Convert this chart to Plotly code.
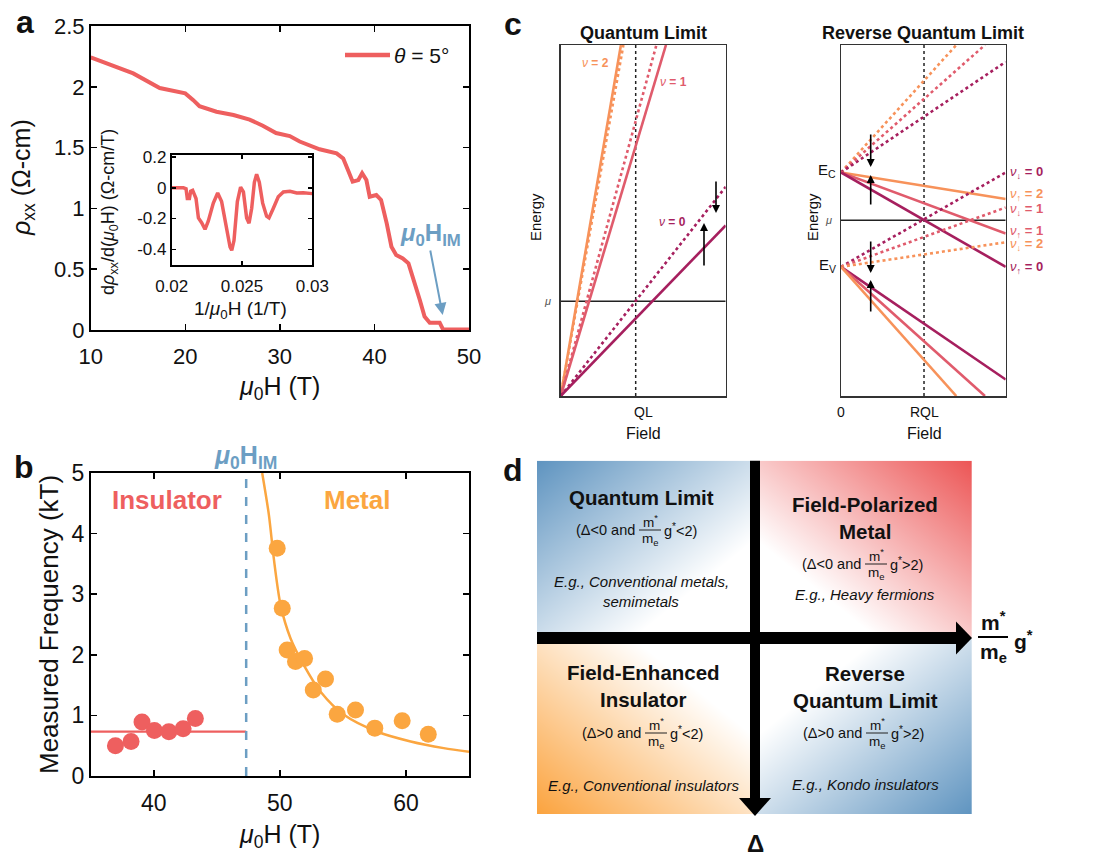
import plotly.graph_objects as go

W, H = 1100, 864
FONT = "Liberation Sans, Arial, Helvetica, sans-serif"
INK = "#111111"

# ---------------- data: panel a (rho_xx vs field) ----------------
a_field = [10, 14.5, 17.3, 19.4, 20.0, 20.85, 21.5, 23.3, 25.1, 26.8, 28.2, 29.6, 31.05, 32.1,
           34.2, 36.0, 36.7, 37.2, 37.7, 38.3, 38.7, 39.15, 39.5, 40.2, 40.7, 41.3, 41.8, 42.3,
           43.0, 43.6, 44.3, 44.8, 45.3, 45.85, 46.9, 47.25, 50.0]
a_rho = [2.242, 2.11, 1.99, 1.95, 1.946, 1.89, 1.84, 1.795, 1.768, 1.73, 1.68, 1.62, 1.595, 1.55,
         1.486, 1.453, 1.41, 1.316, 1.22, 1.233, 1.29, 1.233, 1.096, 1.11, 1.07, 0.877, 0.685, 0.617,
         0.589, 0.548, 0.384, 0.247, 0.11, 0.06, 0.06, 0.005, 0.005]
a_xticks = [10, 20, 30, 40, 50]
a_yticks = [0, 0.5, 1, 1.5, 2, 2.5]
a_yticktext = ["0", "0.5", "1", "1.5", "2", "2.5"]

# inset: derivative vs inverse field
inset_invB = [0.02, 0.02083, 0.02102, 0.02111, 0.02126, 0.02135, 0.02149, 0.02173, 0.0219, 0.02213,
              0.02237, 0.0226, 0.02296, 0.02327, 0.02355, 0.02386, 0.02415, 0.02427, 0.02443, 0.02467,
              0.0249, 0.0251, 0.02533, 0.0255, 0.02569, 0.02588, 0.02604, 0.02623, 0.02647, 0.02675,
              0.02692, 0.02723, 0.02758, 0.02794, 0.02841, 0.02889, 0.02936, 0.03]
inset_drho = [0, 0, -0.006, -0.07, -0.07, -0.023, -0.017, -0.07, -0.196, -0.227,
              -0.27, -0.217, -0.10, -0.034, -0.09, -0.238, -0.385, -0.406, -0.343, -0.09,
              0.004, -0.027, -0.196, -0.23, -0.133, 0.036, 0.088, 0.036, -0.10, -0.185,
              -0.196, -0.133, -0.059, -0.027, -0.023, -0.034, -0.032, -0.038]
inset_xticks = [0.02, 0.025, 0.03]
inset_xticktext = ["0.02", "0.025", "0.03"]
inset_yticks = [0.2, 0, -0.2, -0.4]
inset_yticktext = ["0.2", "0", "-0.2", "-0.4"]

# ---------------- data: panel b (frequency vs field) ----------------
ins_field = [36.96, 38.2, 39.07, 40.05, 41.2, 42.33, 43.3]
ins_freq = [0.50, 0.57, 0.89, 0.75, 0.73, 0.78, 0.95]
ins_level = 0.732
h_im = 47.33
met_field = [49.79, 50.19, 50.58, 51.24, 51.96, 52.65, 53.62, 54.55, 56.0, 57.53, 59.7, 61.77]
met_freq = [3.76, 2.77, 2.08, 1.89, 1.94, 1.42, 1.60, 1.02, 1.09, 0.79, 0.91, 0.69]
fit_field = [48.6, 49.13, 49.52, 50.06, 50.85, 51.9, 53.23, 55.08, 57.73, 60.37, 63.0, 65.0]
fit_freq = [5.0, 4.31, 3.59, 2.82, 2.27, 1.83, 1.39, 1.01, 0.73, 0.57, 0.46, 0.40]
b_xticks = [40, 50, 60]
b_yticks = [0, 1, 2, 3, 4, 5]

# ---------------- data: panel c (schematic Landau levels) ----------------
ql_level = ["2", "2", "1", "1", "0", "0"]
ql_spin = ["down", "up", "down", "up", "down", "up"]
ql_end_x = [0.38, 0.365, 0.58, 0.638, 1.0, 1.0]
ql_end_y = [1.0, 1.0, 1.0, 1.0, 0.596, 0.486]
ql_field = 0.4545
ql_mu = 0.27

rql_level = ["2", "1", "0", "2", "1", "0", "0", "1", "2", "0", "1", "2"]
rql_spin = ["down"] * 3 + ["up"] * 3 + ["down"] * 3 + ["up"] * 3
rql_start_y = [0.637] * 6 + [0.368] * 6
rql_end_x = [0.70, 0.874, 1.0, 1.0, 1.0, 1.0, 1.0, 1.0, 1.0, 1.0, 0.874, 0.70]
rql_end_y = [1.0, 1.0, 0.952, 0.561, 0.463, 0.368, 0.637, 0.537, 0.438, 0.047, 0.0, 0.0]
rql_field = 0.504
rql_mu = 0.501

# ---------------- styles ----------------
RED = "#EE5F5F"
ORANGE = "#FBA640"
BLUE = "#6C9EC3"
C_COL = {"2": "#F7925A", "1": "#E05B6C", "0": "#A61F5E"}
D_BLUE = "#5F94C0"
D_RED = "#EC5555"
D_ORANGE = "#FBA33E"


def X(px):
    return px / W


def Y(py):
    return 1 - py / H


annotations = []
shapes = []


def txt(px, py, text, size, color=INK, xanchor="center", yanchor="middle", angle=0):
    annotations.append(dict(x=X(px), y=Y(py), xref="paper", yref="paper", text=text,
                            showarrow=False, xanchor=xanchor, yanchor=yanchor, textangle=angle,
                            font=dict(family=FONT, size=size, color=color)))


def arrow(hx, hy, tx, ty, color="black", width=1.5, head=2, size=1.0):
    annotations.append(dict(x=X(hx), y=Y(hy), xref="paper", yref="paper", text="",
                            showarrow=True, ax=tx - hx, ay=ty - hy, axref="pixel", ayref="pixel",
                            arrowhead=head, arrowsize=size, arrowwidth=width, arrowcolor=color))


def pline(x0, y0, x1, y1, color="black", width=1.0):
    shapes.append(dict(type="line", xref="paper", yref="paper", x0=X(x0), y0=Y(y0),
                       x1=X(x1), y1=Y(y1), line=dict(color=color, width=width)))


fig = go.Figure()

# axis domains (pixel boxes)
boxes = {
    "a": (90.7, 469, 26, 330),
    "ins": (171.7, 312.3, 155, 265),
    "b": (90.7, 469, 473, 776),
    "cl": (560.7, 725.7, 45, 396),
    "cr": (841, 1005.7, 45, 396),
    "d1": (537, 755, 460.7, 638),
    "d2": (755, 971.7, 460.7, 638),
    "d3": (537, 755, 638, 814),
    "d4": (755, 971.7, 638, 814),
}
order = ["a", "ins", "b", "cl", "cr", "d1", "d2", "d3", "d4"]
layout_axes = {}
for i, k in enumerate(order):
    x0, x1, y0, y1 = boxes[k]
    n = "" if i == 0 else str(i + 1)
    layout_axes["xaxis" + n] = dict(domain=[X(x0), X(x1)], anchor="y" + n, automargin=False)
    layout_axes["yaxis" + n] = dict(domain=[Y(y1), Y(y0)], anchor="x" + n, automargin=False)


def sci_axis(rng, tickvals, ticktext, size):
    return dict(range=rng, tickvals=tickvals, ticktext=ticktext, ticks="inside", ticklen=6,
                tickwidth=1.5, tickcolor="black", showline=True, linecolor="black", linewidth=1.8,
                mirror="ticks", showgrid=False, zeroline=False,
                tickfont=dict(family=FONT, size=size, color=INK))


# ---- panel a ----
layout_axes["xaxis"].update(sci_axis([10, 50], a_xticks, [str(v) for v in a_xticks], 22))
layout_axes["yaxis"].update(sci_axis([0, 2.5], a_yticks, a_yticktext, 22))
layout_axes["xaxis"]["ticklabelstandoff"] = 6
fig.add_trace(go.Scatter(x=a_field, y=a_rho, mode="lines", line=dict(color=RED, width=4),
                         xaxis="x", yaxis="y", hoverinfo="skip"))
# inset
layout_axes["xaxis2"].update(sci_axis([0.02, 0.03], inset_xticks, inset_xticktext, 17))
layout_axes["yaxis2"].update(sci_axis([-0.502, 0.213], inset_yticks, inset_yticktext, 17))
layout_axes["xaxis2"]["ticklabelstandoff"] = 5
layout_axes["xaxis2"]["ticklen"] = 4
layout_axes["yaxis2"]["ticklen"] = 4
fig.add_trace(go.Scatter(x=inset_invB, y=inset_drho, mode="lines", line=dict(color=RED, width=3.5),
                         xaxis="x2", yaxis="y2", hoverinfo="skip"))

# ---- panel b ----
layout_axes["xaxis3"].update(sci_axis([35, 65], b_xticks, [str(v) for v in b_xticks], 23))
layout_axes["yaxis3"].update(sci_axis([0, 5], b_yticks, [str(v) for v in b_yticks], 23))
layout_axes["xaxis3"]["ticklabelstandoff"] = 6
fig.add_trace(go.Scatter(x=[35, h_im], y=[ins_level, ins_level], mode="lines",
                         line=dict(color=RED, width=2.2), xaxis="x3", yaxis="y3", hoverinfo="skip"))
fig.add_trace(go.Scatter(x=[h_im, h_im], y=[0, 5], mode="lines",
                         line=dict(color=BLUE, width=2.5, dash="dash"), xaxis="x3", yaxis="y3",
                         hoverinfo="skip"))
fig.add_trace(go.Scatter(x=fit_field, y=fit_freq, mode="lines", line=dict(color=ORANGE, width=2.5,
                         shape="spline", smoothing=0.8), xaxis="x3", yaxis="y3", hoverinfo="skip"))
fig.add_trace(go.Scatter(x=ins_field, y=ins_freq, mode="markers",
                         marker=dict(color=RED, size=17, line=dict(width=0)),
                         xaxis="x3", yaxis="y3", hoverinfo="skip"))
fig.add_trace(go.Scatter(x=met_field, y=met_freq, mode="markers",
                         marker=dict(color=ORANGE, size=17, line=dict(width=0)),
                         xaxis="x3", yaxis="y3", hoverinfo="skip"))

# ---- panel c ----
for ax in ["xaxis4", "yaxis4", "xaxis5", "yaxis5"]:
    layout_axes[ax].update(dict(range=[0, 1], showline=True, mirror=True, linecolor="#333333",
                                linewidth=1.5, ticks="", showticklabels=False, showgrid=False,
                                zeroline=False))
# left: quantum limit
fig.add_trace(go.Scatter(x=[ql_field, ql_field], y=[0, 1], mode="lines",
                         line=dict(color="#222222", width=1.5, dash="dot"),
                         xaxis="x4", yaxis="y4", hoverinfo="skip"))
fig.add_trace(go.Scatter(x=[0, 1], y=[ql_mu, ql_mu], mode="lines",
                         line=dict(color="#222222", width=1.5), xaxis="x4", yaxis="y4",
                         hoverinfo="skip"))
for lv, sp, ex, ey in zip(ql_level, ql_spin, ql_end_x, ql_end_y):
    fig.add_trace(go.Scatter(x=[0, ex], y=[0, ey], mode="lines",
                             line=dict(color=C_COL[lv], width=2.6,
                                       dash="dot" if sp == "down" else "solid"),
                             xaxis="x4", yaxis="y4", hoverinfo="skip"))
# right: reverse quantum limit
fig.add_trace(go.Scatter(x=[rql_field, rql_field], y=[0, 1], mode="lines",
                         line=dict(color="#222222", width=1.5, dash="dot"),
                         xaxis="x5", yaxis="y5", hoverinfo="skip"))
fig.add_trace(go.Scatter(x=[0, 1], y=[rql_mu, rql_mu], mode="lines",
                         line=dict(color="#222222", width=1.5), xaxis="x5", yaxis="y5",
                         hoverinfo="skip"))
for lv, sp, sy, ex, ey in zip(rql_level, rql_spin, rql_start_y, rql_end_x, rql_end_y):
    fig.add_trace(go.Scatter(x=[0, ex], y=[sy, ey], mode="lines",
                             line=dict(color=C_COL[lv], width=2.6,
                                       dash="dot" if sp == "down" else "solid"),
                             xaxis="x5", yaxis="y5", hoverinfo="skip"))

# ---- panel d: gradient quadrants ----
grad = {
    "d1": ([[0.5, 0.0], [1.0, 0.5]], D_BLUE),
    "d2": ([[0.0, 0.5], [0.5, 1.0]], D_RED),
    "d3": ([[1.0, 0.5], [0.5, 0.0]], D_ORANGE),
    "d4": ([[0.5, 1.0], [0.0, 0.5]], D_BLUE),
}
for i, k in enumerate(order):
    if not k.startswith("d"):
        continue
    n = str(i + 1)
    layout_axes["xaxis" + n].update(dict(range=[0, 1], visible=False, fixedrange=True))
    layout_axes["yaxis" + n].update(dict(range=[0, 1], visible=False, fixedrange=True))
    z, col = grad[k]
    fig.add_trace(go.Heatmap(x=[0, 1], y=[0, 1], z=z, zmin=0, zmax=1, zsmooth="best",
                             colorscale=[[0, "#ffffff"], [0.28, "#ffffff"], [1, col]],
                             showscale=False, hoverinfo="skip", xaxis="x" + n, yaxis="y" + n))

# ---------------- annotations ----------------
# panel labels
for lab, px, py in [("a", 25, 22), ("b", 24, 467), ("c", 513, 24), ("d", 513, 470)]:
    txt(px, py, "<b>%s</b>" % lab, 32)

# panel a texts
txt(279, 388, "<i>μ</i><sub>0</sub>H (T)", 25)
txt(23, 178, "<i>ρ</i><sub>xx</sub> (Ω-cm)", 25, angle=-90)
txt(110, 212, "d<i>ρ</i><sub>xx</sub>/d(<i>μ</i><sub>0</sub>H) (Ω-cm/T)", 18, angle=-90)
txt(240, 310, "1/<i>μ</i><sub>0</sub>H (1/T)", 19)
pline(345, 55, 390, 55, RED, 4.5)
txt(392, 55, "<i>θ</i> = 5°", 21, xanchor="left")
txt(430, 235, "<b><i>μ</i><sub>0</sub>H<sub>IM</sub></b>", 24, color=BLUE)
arrow(442.7, 315, 430, 249, color=BLUE, width=2, head=2, size=1.2)

# panel b texts
txt(279, 836, "<i>μ</i><sub>0</sub>H (T)", 25)
txt(49, 625, "Measured Frequency (kT)", 26, angle=-90)
txt(245, 457, "<b><i>μ</i><sub>0</sub>H<sub>IM</sub></b>", 25, color=BLUE)
txt(167, 500, "<b>Insulator</b>", 26, color=RED)
txt(357, 500, "<b>Metal</b>", 26, color=ORANGE)

# panel c texts
txt(643, 33, "<b>Quantum Limit</b>", 18)
txt(923, 33, "<b>Reverse Quantum Limit</b>", 18)
txt(535, 217, "Energy", 15, angle=-90)
txt(812, 217, "Energy", 15, angle=-90)
txt(643, 412, "QL", 14)
txt(643, 433, "Field", 16)
txt(841, 412, "0", 14)
txt(924, 412, "RQL", 14)
txt(924, 433, "Field", 16)
txt(553, 301, "<i>μ</i>", 11, color="#555555", xanchor="right")
txt(834, 220, "<i>μ</i>", 11, color="#555555", xanchor="right")
txt(838, 170, "E<sub>C</sub>", 15, xanchor="right")
txt(838, 265, "E<sub>V</sub>", 15, xanchor="right")
txt(595, 63, "<i>ν</i> <b>= 2</b>", 12, color=C_COL["2"])
txt(673, 82, "<i>ν</i> <b>= 1</b>", 12, color=C_COL["1"])
txt(672, 222, "<i>ν</i> <b>= 0</b>", 12, color=C_COL["0"])
arrow(716, 213, 716, 180, width=1.6, head=2, size=1.0)
arrow(704, 223, 704, 267, width=1.6, head=2, size=1.0)
arrow(870.7, 167, 870.7, 133, width=1.6, head=2, size=1.0)
arrow(870.7, 175, 870.7, 206, width=1.6, head=2, size=1.0)
arrow(870.7, 273, 870.7, 240, width=1.6, head=2, size=1.0)
arrow(870.7, 280, 870.7, 313, width=1.6, head=2, size=1.0)
right_labels = [(172, "↓", "0"), (195, "↑", "2"), (209, "↓", "1"),
                (231, "↑", "1"), (244, "↓", "2"), (268, "↑", "0")]
for py, arr, lv in right_labels:
    txt(1008, py, "<i>ν</i><sub>%s</sub> <b>= %s</b>" % (arr, lv), 13, color=C_COL[lv],
        xanchor="left")

# panel d: axes arrows
shapes.append(dict(type="rect", xref="paper", yref="paper", x0=X(537), x1=X(958), y0=Y(644),
                   y1=Y(632), fillcolor="black", line=dict(width=0)))
shapes.append(dict(type="path", xref="paper", yref="paper",
                   path="M %f,%f L %f,%f L %f,%f Z" % (X(956), Y(621.5), X(972), Y(638), X(956), Y(654.5)),
                   fillcolor="black", line=dict(width=0)))
shapes.append(dict(type="rect", xref="paper", yref="paper", x0=X(750), x1=X(760), y0=Y(799),
                   y1=Y(460.7), fillcolor="black", line=dict(width=0)))
shapes.append(dict(type="path", xref="paper", yref="paper",
                   path="M %f,%f L %f,%f L %f,%f Z" % (X(739), Y(798), X(771), Y(798), X(755), Y(816)),
                   fillcolor="black", line=dict(width=0)))


def frac(cx, cy, size, bar_w, bold=False, dy=None):
    dy = dy if dy is not None else size * 0.68
    b0, b1 = ("<b>", "</b>") if bold else ("", "")
    txt(cx, cy - dy, b0 + "m<sup>*</sup>" + b1, size)
    txt(cx, cy + dy, b0 + "m<sub>e</sub>" + b1, size)
    pline(cx - bar_w / 2, cy, cx + bar_w / 2, cy, "#222222" if not bold else "black",
          1.0 if not bold else 2.0)


def condition(cx_frac, cy, sign, cmp):
    txt(cx_frac - 13, cy, "(Δ%s0 and" % sign, 14.5, xanchor="right")
    frac(cx_frac, cy, 13.5, 22)
    txt(cx_frac + 12, cy, "g<sup>*</sup>%s2)" % cmp, 14.5, xanchor="left")


# TL
txt(641, 497, "<b>Quantum Limit</b>", 20.5)
condition(650, 530, "&lt;", "&lt;")
txt(641, 581, "<i>E.g., Conventional metals,</i>", 15)
txt(641, 601, "<i>semimetals</i>", 15)
# TR
txt(865, 504, "<b>Field-Polarized</b>", 20.5)
txt(865, 531, "<b>Metal</b>", 20.5)
condition(876, 564, "&lt;", "&gt;")
txt(865, 594, "<i>E.g., Heavy fermions</i>", 15)
# BL
txt(643, 672, "<b>Field-Enhanced</b>", 20.5)
txt(643, 699, "<b>Insulator</b>", 20.5)
condition(656, 733, "&gt;", "&lt;")
txt(643, 785, "<i>E.g., Conventional insulators</i>", 15)
# BR
txt(865, 673, "<b>Reverse</b>", 20.5)
txt(865, 700, "<b>Quantum Limit</b>", 20.5)
condition(877, 733, "&gt;", "&gt;")
txt(865, 784, "<i>E.g., Kondo insulators</i>", 15)
# axis labels of d
frac(993, 637, 21, 30, bold=True, dy=16)
txt(1012, 640, "<b>g<sup>*</sup></b>", 21, xanchor="left")
txt(755, 843, "<b>Δ</b>", 24)

fig.update_layout(
    width=W, height=H, margin=dict(l=0, r=0, t=0, b=0, autoexpand=False),
    paper_bgcolor="white", plot_bgcolor="white", showlegend=False,
    font=dict(family=FONT, color=INK),
    annotations=annotations, shapes=shapes, **layout_axes,
)
fig.write_html("out.html", config={"displayModeBar": False, "staticPlot": True},
               post_script="document.body.style.margin='0px';")
